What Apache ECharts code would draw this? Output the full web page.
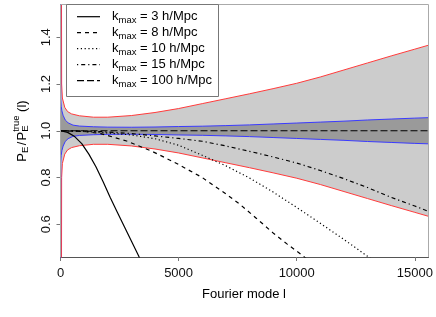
<!DOCTYPE html>
<html><head><meta charset="utf-8">
<script src="https://cdn.jsdelivr.net/npm/echarts@6/dist/echarts.min.js"></script>
<style>html,body{margin:0;padding:0;background:#fff}#c{width:436px;height:317px}</style>
</head><body><div id="c"></div>
<script>
// ---- data ----
const xTicks = [0, 5000, 10000, 15000];
const yTicks = [0.6, 0.8, 1.0, 1.2, 1.4];
// outer (red) error band half-width
const lRed   = [30, 42, 48, 80, 180, 300, 470, 800, 1400, 2000, 3000, 4000, 5000, 6000, 7000, 8000, 9000, 10000, 11000, 12000, 13000, 14000, 15000, 15580];
const sigRed = [1.0, 0.6, 0.2, 0.14, 0.10, 0.082, 0.072, 0.064, 0.058, 0.058, 0.065, 0.078, 0.095, 0.116, 0.137, 0.158, 0.18, 0.203, 0.23, 0.26, 0.29, 0.32, 0.349, 0.366];
// inner (blue) error band half-width
const lBlue   = [3, 8, 12, 30, 60, 110, 200, 320, 530, 800, 1400, 2000, 3000, 4000, 5000, 6000, 7000, 8000, 9000, 10000, 11000, 12000, 13000, 14000, 15000, 15580];
const sigBlue = [1.0, 0.25, 0.14, 0.105, 0.085, 0.066, 0.046, 0.034, 0.024, 0.02, 0.017, 0.0155, 0.015, 0.016, 0.018, 0.0195, 0.022, 0.025, 0.029, 0.033, 0.037, 0.041, 0.046, 0.05, 0.054, 0.056];
// ratio curves
const l3  = [0, 300, 600, 900, 1200, 1500, 1800, 2100, 2400, 2700, 3000, 3300, 3600];
const v3  = [1.0, 0.993, 0.975, 0.945, 0.9, 0.846, 0.783, 0.716, 0.652, 0.59, 0.528, 0.466, 0.40];
const l8  = [0, 1000, 1700, 2800, 3900, 4900, 6000, 7000, 7600, 8300, 9000, 9600, 10200, 10800];
const v8  = [1.0, 0.997, 0.988, 0.956, 0.911, 0.861, 0.800, 0.73, 0.685, 0.625, 0.563, 0.515, 0.47, 0.42];
const l10 = [0, 1500, 3000, 4000, 5000, 6000, 7000, 8000, 9000, 10000, 11000, 12000, 13000, 14000];
const v10 = [1.0, 0.995, 0.982, 0.966, 0.938, 0.895, 0.85, 0.798, 0.738, 0.672, 0.604, 0.535, 0.463, 0.39];
const l15 = [0, 1000, 2000, 3000, 4000, 5000, 6000, 7000, 8000, 9000, 10000, 11000, 12000, 13000, 14000, 15000, 15580];
const v15 = [1.0, 0.999, 0.995, 0.988, 0.978, 0.967, 0.955, 0.935, 0.912, 0.888, 0.862, 0.83, 0.795, 0.757, 0.715, 0.678, 0.655];
const l100 = [0, 15580];
const v100 = [1.0, 1.0];
const legendLabels = ['3', '8', '10', '15', '100'];

// ---- chart ----
const FONT = '"Liberation Sans", Arial, Helvetica, sans-serif';
const pairs = (ls, vs) => ls.map((l, i) => [l, vs[i]]);
const band = (ls, ss, sign) => ls.map((l, i) => [l, 1 + sign * ss[i]]);

function bandSeries(ls, ss, color) {
  return {
    type: 'custom', clip: true, silent: true, animation: false,
    data: [[0, 1]],
    renderItem: function (params, api) {
      const up = ls.map((l, i) => api.coord([l, 1 + ss[i]]));
      const lo = ls.map((l, i) => api.coord([l, 1 - ss[i]])).reverse();
      return { type: 'polygon', shape: { points: up.concat(lo) }, style: { fill: color } };
    }
  };
}
function lineSeries(data, color, width, dash) {
  return {
    type: 'line', data: data, showSymbol: false, symbol: 'none', silent: true, animation: false, clip: true,
    lineStyle: { color: color, width: width, type: dash || 'solid', cap: 'butt' }
  };
}
const dashes = ['solid', [4, 4], [1.2, 2.6], [1.2, 3, 4, 3], [7, 3]];

const ctx = document.createElement('canvas').getContext('2d');
function tw(s, size) { ctx.font = size + 'px ' + FONT; return ctx.measureText(s).width; }

const graphics = [];
// top/right frame
graphics.push({ type: 'polyline', z: 50, shape: { points: [[60.5, 257], [60.5, 4.5], [428.5, 4.5], [428.5, 257]] }, style: { stroke: '#aaaaaa', fill: null, lineWidth: 1 } });
// legend
const LX = 66.5, LY = 4.5, LW = 152, LH = 92;
graphics.push({ type: 'rect', z: 60, shape: { x: LX, y: LY, width: LW, height: LH }, style: { fill: '#fff', stroke: '#777', lineWidth: 1 } });
legendLabels.forEach((lab, i) => {
  const y = 16.7 + i * 16;
  graphics.push({ type: 'line', z: 61, shape: { x1: 77, y1: y, x2: 100, y2: y }, style: { stroke: '#000', lineWidth: 1.2, lineDash: dashes[i] === 'solid' ? null : dashes[i] } });
  let x = 112;
  graphics.push({ type: 'text', z: 61, x: x, y: y, style: { text: 'k', font: '13px ' + FONT, fill: '#000', verticalAlign: 'middle', align: 'left' } });
  x += tw('k', 13);
  graphics.push({ type: 'text', z: 61, x: x, y: y + 3.8, style: { text: 'max', font: '9.5px ' + FONT, fill: '#000', verticalAlign: 'middle', align: 'left' } });
  x += tw('max', 9.5);
  graphics.push({ type: 'text', z: 61, x: x, y: y, style: { text: ' = ' + lab + ' h/Mpc', font: '13px ' + FONT, fill: '#000', verticalAlign: 'middle', align: 'left' } });
});
// x title
graphics.push({ type: 'text', z: 61, x: 244, y: 294, style: { text: 'Fourier mode l', font: '13px ' + FONT, fill: '#000', verticalAlign: 'middle', align: 'center' } });
// y title (rotated)
(function () {
  const parts = [];
  let x = 0;
  const add = (t, size, dy, gapAfter) => { parts.push({ t, size, dy, x }); const w = tw(t, size); x += w + (gapAfter || 0); return w; };
  add('P', 13, 0);
  add('E', 9.5, 3.8, 1.5);
  add('/', 13, 0, 1);
  add('P', 13, 0);
  const xs = x;
  const wTrue = tw('true', 9.5);
  parts.push({ t: 'true', size: 9.5, dy: -5.5, x: xs });
  parts.push({ t: 'E', size: 9.5, dy: 3.8, x: xs });
  x = xs + wTrue;
  add(' (l)', 13, 0);
  const total = x;
  const children = parts.map(p => ({ type: 'text', x: p.x - total / 2, y: p.dy, style: { text: p.t, font: p.size + 'px ' + FONT, fill: '#000', verticalAlign: 'middle', align: 'left' } }));
  graphics.push({ type: 'group', z: 61, x: 22, y: 131, rotation: Math.PI / 2, children: children });
})();

const chart = echarts.init(document.getElementById('c'), null, { renderer: 'canvas' });
chart.setOption({
  animation: false,
  backgroundColor: '#fff',
  grid: { left: 60.5, right: 7.5, top: 4.5, bottom: 60, containLabel: false },
  xAxis: {
    type: 'value', min: 0, max: 15580,
    axisLine: { show: true, lineStyle: { color: '#555', width: 1 } },
    axisTick: { show: true, length: 4, lineStyle: { color: '#777' }, customValues: xTicks },
    axisLabel: { show: true, margin: 10, fontSize: 13, color: '#111', fontFamily: FONT, customValues: xTicks, formatter: v => String(v) },
    splitLine: { show: false }
  },
  yAxis: {
    type: 'value', min: 0.46, max: 1.54,
    axisLine: { show: true, lineStyle: { color: '#555', width: 1 } },
    axisTick: { show: true, length: 4, lineStyle: { color: '#777' }, customValues: yTicks },
    axisLabel: { show: true, margin: 8, rotate: 90, fontSize: 13, color: '#111', fontFamily: FONT, customValues: yTicks, formatter: v => v.toFixed(1) },
    splitLine: { show: false }
  },
  series: [
    bandSeries(lRed, sigRed, '#cccccc'),
    bandSeries(lBlue, sigBlue, '#9a9a9a'),
    lineSeries(band(lRed, sigRed, 1), '#ff3b3b', 1),
    lineSeries(band(lRed, sigRed, -1), '#ff3b3b', 1),
    lineSeries(band(lBlue, sigBlue, 1), '#3a3aff', 1),
    lineSeries(band(lBlue, sigBlue, -1), '#3a3aff', 1),
    lineSeries(pairs(l3, v3), '#000', 1.2, dashes[0]),
    lineSeries(pairs(l8, v8), '#000', 1.2, dashes[1]),
    lineSeries(pairs(l10, v10), '#000', 1.2, dashes[2]),
    lineSeries(pairs(l15, v15), '#000', 1.2, dashes[3]),
    lineSeries(pairs(l100, v100), '#000', 1.2, dashes[4])
  ],
  graphic: graphics
});
</script></body></html>
